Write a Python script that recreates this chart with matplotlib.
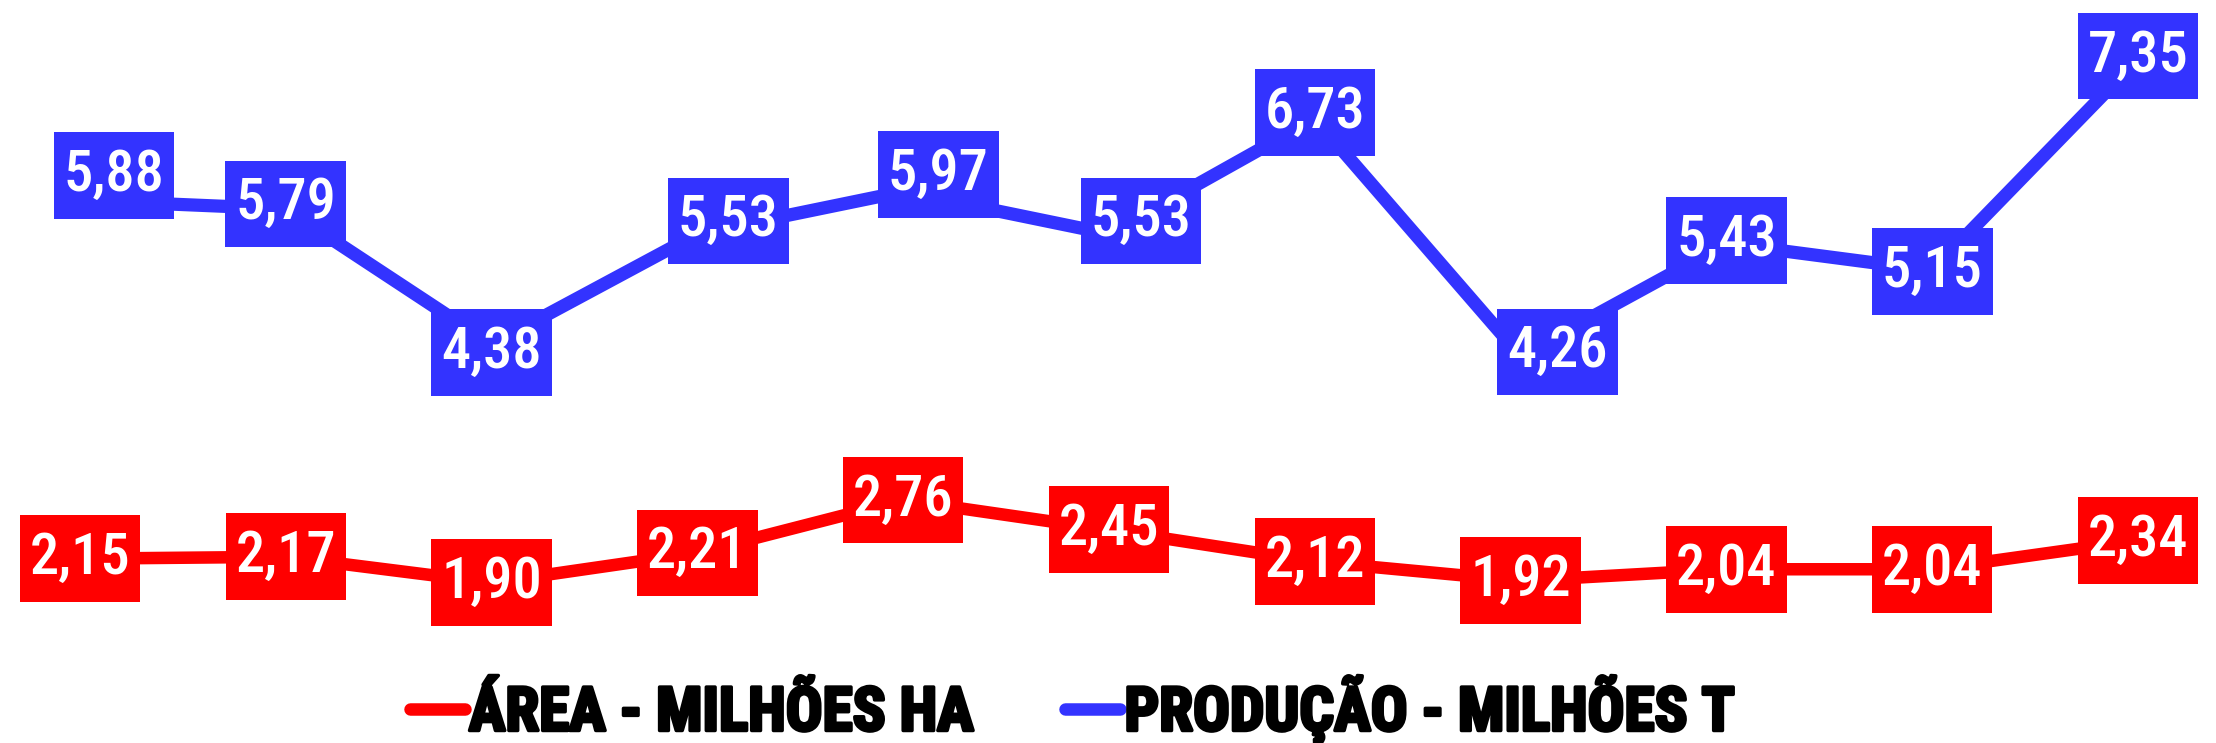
import matplotlib
matplotlib.use('Agg')
from matplotlib import pyplot as plt
from matplotlib.lines import Line2D
from matplotlib import patheffects as pe

# dados
anos = list(range(11))
area = [2.15, 2.17, 1.90, 2.21, 2.76, 2.45, 2.12, 1.92, 2.04, 2.04, 2.34]
producao = [5.88, 5.79, 4.38, 5.53, 5.97, 5.53, 6.73, 4.26, 5.43, 5.15, 7.35]
nome_area = 'ÁREA - MILHÕES HA'
nome_prod = 'PRODUÇÃO - MILHÕES T'

vermelho = '#ff0000'
azul = '#3333ff'

# deslocamento dos rotulos azuis (pixels)
desloc_prod = [(34, 25), (0, 5), (0, -8), (31, 13), (35, 17), (32, 13), (0, 6), (37, 4), (0, 3), (0, -1), (0, 3)]

fig = plt.figure(figsize=(22.16, 7.43), dpi=100)
ax = fig.add_axes([0, 1 - 620 / 743, 1, 620 / 743])
ax.axis('off')

ax.plot(anos, area, color=vermelho, lw=9, solid_capstyle='butt', zorder=1)
ax.plot(anos, producao, color=azul, lw=9.5, solid_capstyle='butt', zorder=1)

def rotulo(x, y, cor, dx=0, dy=0):
    txt = ('%.2f' % y).replace('.', ',')
    ax.annotate(txt, (x, y), xytext=(dx, dy), textcoords='offset pixels',
                ha='center', va='center', color='white', fontsize=42,
                family='Roboto Condensed', weight=500, zorder=3,
                bbox=dict(boxstyle='square,pad=0.17', fc=cor, ec='none', mutation_aspect=1.6))

for i in anos:
    rotulo(i, area[i], vermelho)
    dx, dy = desloc_prod[i]
    rotulo(i, producao[i], azul, dx, dy)

ax.set_xlim(-0.389, 10.379)
ax.set_ylim(1.512, 7.964)

alca = [Line2D([], [], color=vermelho, lw=9, solid_capstyle='round'),
        Line2D([], [], color=azul, lw=9, solid_capstyle='round')]
leg = fig.legend(alca, [nome_area, nome_prod], loc='center', bbox_to_anchor=(1072 / 2216, 1 - 710 / 743),
                 ncol=2, frameon=False, handlelength=0.9, handletextpad=0.07, columnspacing=1.5,
                 prop=dict(family=['Roboto Condensed', 'DejaVu Sans'], weight='bold', size=44))
for t in leg.get_texts():
    t.set_path_effects([pe.withStroke(linewidth=2.5, foreground='black')])

fig.savefig('out.png', dpi=100)
